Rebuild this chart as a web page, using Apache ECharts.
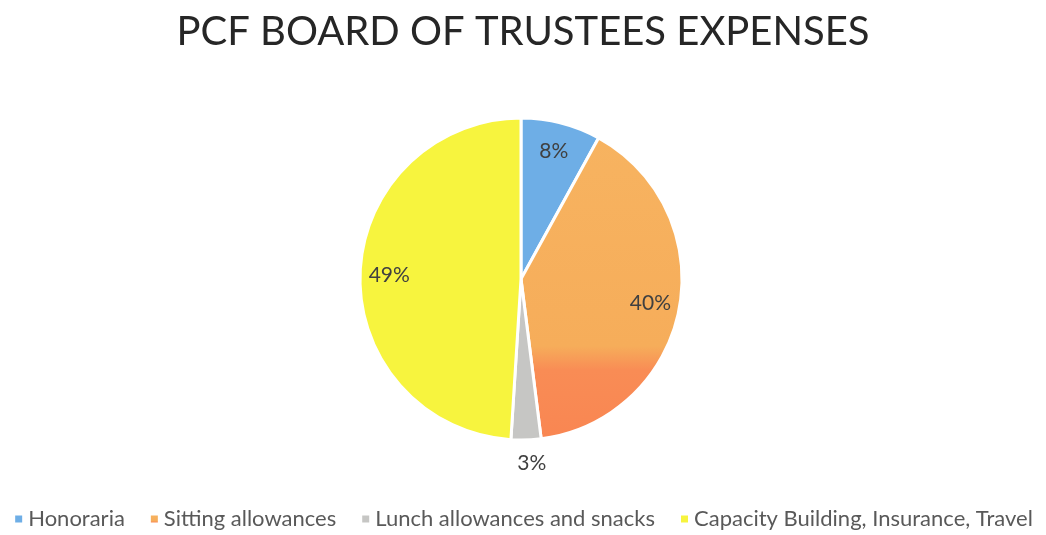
<!DOCTYPE html>
<html>
<head>
<meta charset="utf-8">
<script src="https://cdn.jsdelivr.net/npm/echarts@6/dist/echarts.min.js"></script>
<style>
  html, body { margin: 0; padding: 0; background: #fff; }
  #chart { width: 1046px; height: 535px; }
</style>
</head>
<body>
<div id="chart"></div>
<script>
// Expense shares (percent), clockwise from 12 o'clock
const categories = ["Honoraria", "Sitting allowances", "Lunch allowances and snacks", "Capacity Building, Insurance, Travel"];
const shares = [8, 40, 3, 49];
const colors = ["#6eaee6", "#f6ad5c", "#c6c6c4", "#f7f43e"];

const chart = echarts.init(document.getElementById("chart"));

const center = [521, 279];
const radius = 161;
const font = "Lato";

// orange slice looks lighter on top, deeper at the bottom
const sliceColor = (i) => i === 1
  ? new echarts.graphic.LinearGradient(0, 0, 0, 1, [
      { offset: 0, color: "#f7b360" },
      { offset: 0.69, color: "#f6ad5a" },
      { offset: 0.77, color: "#f98c55" },
      { offset: 1, color: "#f98652" }
    ])
  : colors[i];

const mainData = categories.map((name, i) => ({
  name,
  value: shares[i],
  itemStyle: { color: sliceColor(i) },
  label: { show: i === 2 }
}));

// transparent copy used only to place inside labels nearer the rim
const labelData = categories.map((name, i) => ({
  name,
  value: shares[i],
  label: { show: i !== 2 }
}));

const labelStyle = { formatter: "{d}%", fontFamily: font, fontSize: 21, color: "#404040" };

chart.setOption({
  animation: false,
  color: colors,
  title: {
    text: "PCF BOARD OF TRUSTEES EXPENSES",
    left: "center",
    top: 7,
    textStyle: { fontFamily: font, fontWeight: "normal", fontSize: 40, color: "#262626" }
  },
  legend: {
    bottom: 0,
    left: "center",
    icon: "rect",
    itemWidth: 9,
    itemHeight: 9,
    itemGap: 24,
    textStyle: { fontFamily: font, fontSize: 22, color: "#595959" },
    data: categories
  },
  series: [
    {
      type: "pie",
      center,
      radius,
      startAngle: 90,
      clockwise: true,
      itemStyle: { borderColor: "#fff", borderWidth: 3 },
      label: Object.assign({ position: "outside" }, labelStyle),
      labelLine: { show: false, length: 23, length2: 0 },
      labelLayout: { align: "center" },
      emphasis: { disabled: true },
      data: mainData
    },
    {
      type: "pie",
      center,
      radius: radius * 1.6,
      startAngle: 90,
      clockwise: true,
      silent: true,
      legendHoverLink: false,
      itemStyle: { color: "rgba(0,0,0,0)" },
      label: Object.assign({ position: "inside" }, labelStyle),
      labelLine: { show: false },
      emphasis: { disabled: true },
      data: labelData
    }
  ]
});
</script>
</body>
</html>
